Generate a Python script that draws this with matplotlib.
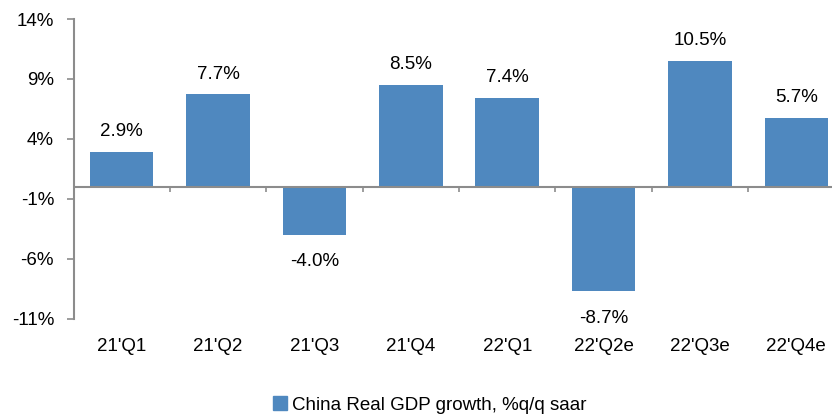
import matplotlib
matplotlib.use("Agg")
import matplotlib.pyplot as plt
from matplotlib import font_manager
from matplotlib.ticker import FuncFormatter

quarters = ["21'Q1", "21'Q2", "21'Q3", "21'Q4", "22'Q1", "22'Q2e", "22'Q3e", "22'Q4e"]
growth = [2.9, 7.7, -4.0, 8.5, 7.4, -8.7, 10.5, 5.7]
series_name = "China Real GDP growth, %q/q saar"
y_ticks = [-11, -6, -1, 4, 9, 14]

names = {f.name for f in font_manager.fontManager.ttflist}
family = "Liberation Sans Narrow" if "Liberation Sans Narrow" in names else "Liberation Sans"
plt.rcParams["font.family"] = [family, "DejaVu Sans"]

bar_color = "#4F88BF"
axis_color = "#8C8C8C"
fs = 14.5 if family == "Liberation Sans Narrow" else 13.5

fig = plt.figure(figsize=(8.32, 4.16), dpi=100)
# axes runs a little past the right edge of the figure
ax = fig.add_axes([73.5 / 832, 1 - 318.5 / 416, 771 / 832, 299.5 / 416])

x = list(range(len(quarters)))
ax.bar(x, growth, width=0.66, color=bar_color, zorder=2)

ax.set_xlim(-0.5, len(quarters) - 0.5)
ax.set_ylim(-11, 14)
ax.set_yticks(y_ticks)
ax.yaxis.set_major_formatter(FuncFormatter(lambda v, p: f"{v:.0f}%"))
ax.tick_params(axis="y", direction="out", length=5, width=1.2, color=axis_color,
               labelsize=fs, pad=9)
ax.set_xticks(x)
ax.set_xticklabels(quarters)
ax.tick_params(axis="x", length=0, labelsize=fs, pad=14)

for side in ["top", "right", "bottom"]:
    ax.spines[side].set_visible(False)
ax.spines["left"].set_color(axis_color)
ax.spines["left"].set_linewidth(1.5)

# category axis sits on the zero line with small ticks between categories
ax.axhline(0, color=axis_color, linewidth=1.5, zorder=3)
bounds = [i + 0.5 for i in x[:-1]]
ax.vlines(bounds, -0.4, 0, color=axis_color, linewidth=1.2, zorder=3)

for xi, v in zip(x, growth):
    if v >= 0:
        ax.annotate(f"{v:.1f}%", (xi, v), xytext=(0, 11.5), textcoords="offset points",
                    ha="center", va="baseline", fontsize=fs)
    else:
        ax.annotate(f"{v:.1f}%", (xi, v), xytext=(0, -13.5), textcoords="offset points",
                    ha="center", va="top", fontsize=fs)

handle = plt.Rectangle((0, 0), 1, 1, color=bar_color)
fig.legend([handle], [series_name], loc="center", bbox_to_anchor=(430 / 832, 1 - 405 / 416),
           frameon=False, fontsize=fs, handlelength=0.7, handleheight=0.7,
           handletextpad=0.3, borderpad=0)

fig.savefig("out.png", dpi=100)
